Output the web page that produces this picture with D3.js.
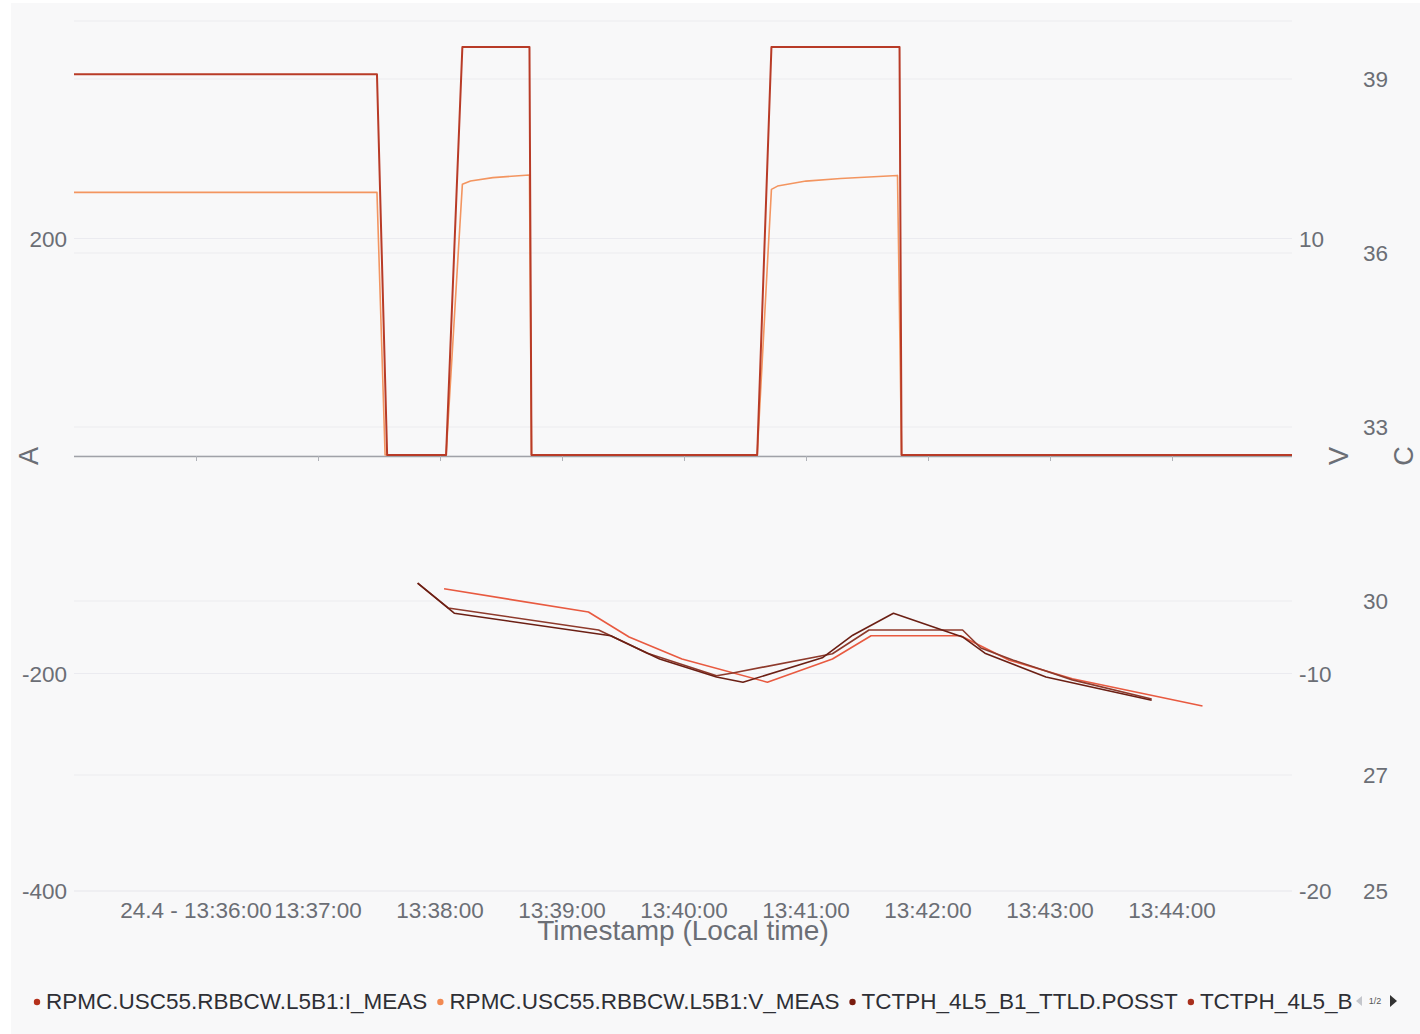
<!DOCTYPE html>
<html>
<head>
<meta charset="utf-8">
<script src="https://cdn.jsdelivr.net/npm/d3@7"></script>
<style>
  body { margin: 0; background: #ffffff; font-family: "Liberation Sans", Arial, sans-serif; }
</style>
</head>
<body>
<div id="chart"></div>
<script>
// ---- data ----
// current (A)
const iTimes  = ["13:35:00", "13:37:29", "13:37:34", "13:38:03", "13:38:11", "13:38:44", "13:38:45", "13:40:36", "13:40:43", "13:41:46", "13:41:47", "13:45:00"];
const iValues = [351, 351, 1, 1, 376, 376, 1, 1, 376, 376, 1, 1];

// voltage (V)
const vTimes  = ["13:35:00", "13:37:29", "13:37:33", "13:38:03", "13:38:11", "13:38:15", "13:38:26", "13:38:44", "13:38:45", "13:40:36", "13:40:43", "13:40:46", "13:41:00", "13:41:17", "13:41:45", "13:41:47", "13:45:00"];
const vValues = [12.12, 12.12, 0.05, 0.05, 12.49, 12.64, 12.80, 12.92, 0.05, 0.05, 12.26, 12.41, 12.64, 12.76, 12.90, 0.05, 0.05];

// temperatures (C)
const t1Times  = ["13:37:49", "13:38:07", "13:39:24", "13:39:48", "13:40:16", "13:40:29", "13:41:08", "13:41:23", "13:41:43", "13:42:17", "13:42:28", "13:42:58", "13:43:50"];
const t1Values = [30.31, 29.79, 29.40, 29.00, 28.69, 28.60, 29.02, 29.41, 29.79, 29.38, 29.10, 28.69, 28.29];

const t2Times  = ["13:37:49", "13:38:04", "13:39:18", "13:39:42", "13:40:16", "13:40:24", "13:41:13", "13:41:31", "13:42:17", "13:42:26", "13:42:42", "13:43:11", "13:43:50"];
const t2Values = [30.31, 29.88, 29.50, 29.10, 28.71, 28.76, 29.09, 29.50, 29.50, 29.19, 28.98, 28.64, 28.31];

const t3Times  = ["13:38:02", "13:39:13", "13:39:33", "13:39:59", "13:40:41", "13:41:13", "13:41:32", "13:42:16", "13:42:40", "13:43:11", "13:44:15"];
const t3Values = [30.21, 29.81, 29.38, 29.00, 28.60, 29.00, 29.40, 29.40, 28.98, 28.66, 28.19];

// axes
const xTickTimes  = ["13:36:00", "13:37:00", "13:38:00", "13:39:00", "13:40:00", "13:41:00", "13:42:00", "13:43:00", "13:44:00"];
const xTickLabels = ["24.4 - 13:36:00", "13:37:00", "13:38:00", "13:39:00", "13:40:00", "13:41:00", "13:42:00", "13:43:00", "13:44:00"];
const aGridTicks  = [-400, -200, 0, 200, 400];
const aTickLabels = [200, -200, -400];
const vTickLabels = [10, -10, -20];
const cTicks      = [25, 27, 30, 33, 36, 39];

const legendNames = ["RPMC.USC55.RBBCW.L5B1:I_MEAS", "RPMC.USC55.RBBCW.L5B1:V_MEAS", "TCTPH_4L5_B1_TTLD.POSST", "TCTPH_4L5_B2_TTLD.POSST"];
const legendColors = ["#b5311c", "#f28a52", "#7a1c0f", "#a8301d"];

// ---- chart ----
const W = 1420, H = 1034;
const plot = { left: 74, right: 1292, top: 21, bottom: 891, zero: 456 };
const parse = d3.timeParse("%H:%M:%S");

const svg = d3.select("#chart").append("svg")
    .attr("width", W)
    .attr("height", H);

// card background
svg.append("rect")
    .attr("x", 11).attr("y", 3)
    .attr("width", W - 11).attr("height", H - 3)
    .attr("fill", "#f8f8f9");

const x = d3.scaleTime()
    .domain([parse("13:35:00"), parse("13:45:00")])
    .range([plot.left, 1294]);
const yA = d3.scaleLinear().domain([-400, 400]).range([plot.bottom, plot.top]);
const yV = d3.scaleLinear().domain([-20, 20]).range([plot.bottom, plot.top]);
const yC = d3.scaleLinear().domain([25, 40]).range([plot.bottom, plot.top]);

// grid lines (A/V share positions, C has its own)
const grid = svg.append("g");
grid.selectAll(".ga")
    .data(aGridTicks)
    .enter().append("line")
    .attr("x1", plot.left).attr("x2", plot.right)
    .attr("y1", d => yA(d)).attr("y2", d => yA(d))
    .attr("stroke", "#ebebf0").attr("stroke-width", 1.2);
grid.selectAll(".gc")
    .data(cTicks)
    .enter().append("line")
    .attr("x1", plot.left).attr("x2", plot.right)
    .attr("y1", d => yC(d)).attr("y2", d => yC(d))
    .attr("stroke", "#ebebf0").attr("stroke-width", 1.2);

// x axis on the zero line
const xAxis = d3.axisBottom(x)
    .tickValues(xTickTimes.map(parse))
    .tickSize(5)
    .tickFormat("");
const xg = svg.append("g")
    .attr("transform", `translate(0,${plot.zero})`)
    .call(xAxis);
xg.select(".domain").attr("d", `M${plot.left},0.5H${plot.right}`).attr("stroke", "#a0a2a8").attr("stroke-width", 1.5);
xg.selectAll(".tick line").attr("stroke", "#b0b2b8");

const labelColor = "#6b6e75";
const tickFont = "22.5px";

// x tick labels
svg.append("g")
    .selectAll("text")
    .data(xTickTimes)
    .enter().append("text")
    .attr("x", d => x(parse(d)))
    .attr("y", 918)
    .attr("text-anchor", "middle")
    .attr("fill", labelColor)
    .style("font-size", tickFont)
    .text((d, i) => xTickLabels[i]);

svg.append("text")
    .attr("x", 683).attr("y", 940)
    .attr("text-anchor", "middle")
    .attr("fill", labelColor)
    .style("font-size", "28px")
    .text("Timestamp (Local time)");

// left axis labels (A)
svg.append("g")
    .selectAll("text")
    .data(aTickLabels)
    .enter().append("text")
    .attr("x", 67)
    .attr("y", d => yA(d) + 8)
    .attr("text-anchor", "end")
    .attr("fill", labelColor)
    .style("font-size", tickFont)
    .text(d => d);

// right axis labels (V)
svg.append("g")
    .selectAll("text")
    .data(vTickLabels)
    .enter().append("text")
    .attr("x", 1299)
    .attr("y", d => yV(d) + 8)
    .attr("fill", labelColor)
    .style("font-size", tickFont)
    .text(d => d);

// right axis labels (C)
svg.append("g")
    .selectAll("text")
    .data(cTicks)
    .enter().append("text")
    .attr("x", 1363)
    .attr("y", d => yC(d) + 8)
    .attr("fill", labelColor)
    .style("font-size", tickFont)
    .text(d => d);

// axis titles
[["A", 38], ["V", 1348], ["C", 1413]].forEach(([t, cx]) => {
    svg.append("text")
        .attr("transform", `translate(${cx},${plot.zero}) rotate(-90)`)
        .attr("text-anchor", "middle")
        .attr("fill", labelColor)
        .style("font-size", "27px")
        .text(t);
});

// clip to plot area
svg.append("clipPath").attr("id", "clip")
    .append("rect")
    .attr("x", plot.left).attr("y", plot.top - 5)
    .attr("width", plot.right - plot.left).attr("height", plot.bottom - plot.top + 10);

const lines = svg.append("g").attr("clip-path", "url(#clip)");

function drawSeries(times, values, yScale, color, width) {
    const pts = times.map((t, i) => [parse(t), values[i]]);
    const line = d3.line()
        .x(d => x(d[0]))
        .y(d => yScale(d[1]));
    lines.append("path")
        .datum(pts)
        .attr("d", line)
        .attr("fill", "none")
        .attr("stroke", color)
        .attr("stroke-width", width)
        .attr("stroke-linejoin", "round");
}

drawSeries(t3Times, t3Values, yC, "#e85a40", 1.6);
drawSeries(t2Times, t2Values, yC, "#8e3a2c", 1.6);
drawSeries(t1Times, t1Values, yC, "#6b1f14", 1.6);
drawSeries(vTimes, vValues, yV, "#f39560", 1.6);
drawSeries(iTimes, iValues, yA, "#b83b27", 2);

// legend
svg.append("clipPath").attr("id", "legclip")
    .append("rect")
    .attr("x", 0).attr("y", 980).attr("width", 1352).attr("height", 40);

const leg = svg.append("g").attr("clip-path", "url(#legclip)");
let lx = 37;
legendNames.forEach((name, i) => {
    leg.append("circle")
        .attr("cx", lx).attr("cy", 1002)
        .attr("r", 3.2)
        .attr("fill", legendColors[i]);
    const txt = leg.append("text")
        .attr("x", lx + 9).attr("y", 1009)
        .attr("fill", "#2e2f35")
        .style("font-size", "22.5px")
        .text(name);
    lx += 9 + txt.node().getComputedTextLength() + 13;
});

// pager
svg.append("path").attr("d", "M1362,996 L1356,1001 L1362,1006 Z").attr("fill", "#c4c6cc");
svg.append("text").attr("x", 1375).attr("y", 1004).attr("text-anchor", "middle")
    .attr("fill", "#555").style("font-size", "9px").text("1/2");
svg.append("path").attr("d", "M1390,995 L1397,1001 L1390,1007 Z").attr("fill", "#333");
</script>
</body>
</html>
